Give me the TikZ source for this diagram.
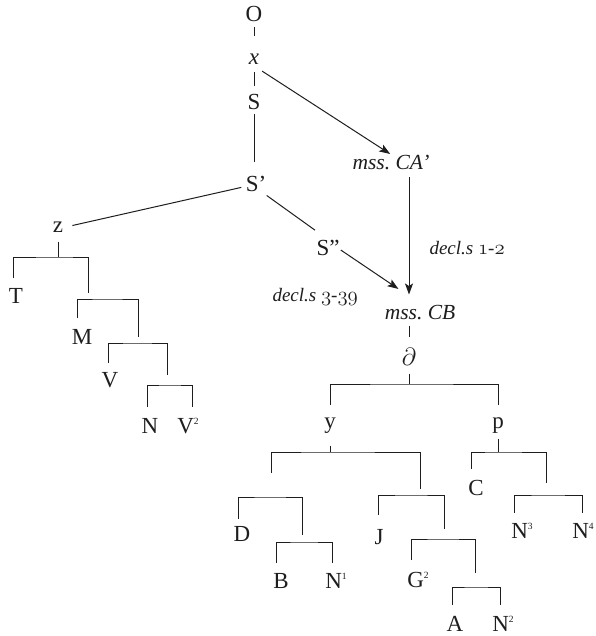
\documentclass[tikz,border=0pt]{standalone}
\usepackage{fontspec}
\setmainfont{Liberation Serif}
\usetikzlibrary{arrows.meta}
\definecolor{ink}{HTML}{1E1E1E}
% old-style figures taken from the math italic font
\newcommand\osnum[1]{{\fontsize{20.5}{24}\usefont{OML}{cmm}{m}{it}#1}}
% small raised index figures
\newcommand\idx[1]{\raisebox{8.5pt}{\fontsize{9.5}{10}\selectfont #1}}
\begin{document}
\begin{tikzpicture}[x=1pt,y=-1pt,color=ink,line width=1pt,
  lab/.style={inner sep=0pt,text height=15pt,text depth=4pt,anchor=base,
    font=\fontsize{23}{27}\selectfont},
  itlab/.style={lab,font=\fontsize{23}{27}\selectfont\itshape},
  ms/.style={lab,font=\fontsize{21.5}{25}\selectfont\itshape},
  note/.style={inner sep=0pt,anchor=base west,font=\fontsize{19}{23}\selectfont\itshape},
  arr/.style={-{Stealth[length=11pt,width=8pt,inset=2.5pt]}}]
\fill[white] (0,0) rectangle (595,636);
\useasboundingbox (0,0) rectangle (595,636);

% ---- upper stemma ----
\node[lab]   (O)   at (254,22)  {O};
\node[itlab] (x)   at (254,65)  {x};
\node[lab]   (S)   at (254,110) {S};
\node[lab]   (Sp)  at (256,192) {S'};
\node[lab]   (Spp) at (328,255) {S''};
\node[ms]    (CAp) at (391,170) {mss.\ CA'};
\node[ms]    (CB)  at (420,319) {mss.\ CB};
\node[note]  (n339) at (272,301) {decl.s \osnum{3}-\osnum{39}};
\node[note]  (n12)  at (429,254) {decl.s \osnum{1}-\osnum{2}};
\node[lab]   (dl)  at (409,365) {$\partial$};
\node[lab]   (z)   at (58,233)  {z};

\draw[shorten <=1pt,shorten >=13pt] (O) -- (x);
\draw[shorten <=3pt,shorten >=8pt] (x.south) -- (S.north);
\draw[shorten >=14pt] (S.south) -- (S.south |- Sp.north);
\draw[arr,shorten <=3pt,shorten >=1pt] (x.south east) -- (CAp.north);
\draw[arr,shorten <=3pt,shorten >=9pt] (CAp.south -| dl) -- (CB.north -| dl);
\draw[shorten <=4pt,shorten >=9pt] (Sp.west) -- (z.east);
\draw[shorten >=16pt] (Sp.-40) -- (Spp.north);
\draw[arr,shorten <=1pt,shorten >=26pt] (Spp.east) -- (CB.north);
\draw[shorten <=2pt,shorten >=13pt] (CB.south -| dl) -- (dl.north);

% ---- left branch (z) ----
\node[lab] (T)  at (16,303)  {T};
\node[lab] (M)  at (82,344)  {M};
\node[lab] (V)  at (110,387) {V};
\node[lab] (Nz) at (150,433) {N};
\node[lab] (V2) at (188,433) {V\idx{2}};
\coordinate (zb)  at (58,257);
\coordinate (zR)  at (88,293);
\coordinate (mb)  at (107,299);
\coordinate (mR)  at (138,337);
\coordinate (vb)  at (137,343);
\coordinate (vR)  at (167,375);
\coordinate (nb)  at (170,385);

\draw[shorten <=4pt] (z.south) -- (zb);
\draw[shorten <=10pt] ([xshift=-3pt]T.north) |- (zb) -| (zR);
\draw[shorten <=11pt] ([xshift=-5pt]M.north) |- (mb) -| (mR);
\draw[shorten <=9pt] ([xshift=-2pt]V.north) |- (vb) -| (vR);
\draw[shorten <=11pt,shorten >=11pt] ([xshift=-3pt]Nz.north) |- (nb) -| ([xshift=4pt]V2.north);

% ---- lower branches (y and p) ----
\node[lab] (y)  at (330,428) {y};
\node[lab] (p)  at (498,428) {p};
\node[lab] (D)  at (242,541) {D};
\node[lab] (B)  at (281,588) {B};
\node[lab] (N1) at (336,588) {N\idx{1}};
\node[lab] (J)  at (379,544) {J};
\node[lab] (G2) at (418,587) {G\idx{2}};
\node[lab] (A)  at (455,631) {A};
\node[lab] (N2) at (503,631) {N\idx{2}};
\node[lab] (C)  at (476,495) {C};
\node[lab] (N3) at (522,538) {N\idx{3}};
\node[lab] (N4) at (583,538) {N\idx{4}};

\coordinate (db) at (409,384);
\coordinate (yb) at (330,452);
\coordinate (yL) at (271,473);
\coordinate (yR) at (420,489);
\coordinate (Db) at (270,497);
\coordinate (DR) at (302,535);
\coordinate (Bb) at (304,542);
\coordinate (Jb) at (411,495);
\coordinate (JR) at (444,529);
\coordinate (Gb) at (443,539);
\coordinate (GR) at (475,573);
\coordinate (Ab) at (476,587);
\coordinate (pb) at (498,452);
\coordinate (pR) at (546,483);
\coordinate (Nb) at (548,495);

\draw[shorten <=4pt] (dl.south) -- (db);
\draw[shorten <=8pt,shorten >=8pt] (y.north) |- (db) -| (p.north);
\draw[shorten <=13pt] (y.south) -- (yb);
\draw (yL) |- (yb) -| (yR);
\draw[shorten <=7pt] ([xshift=-4pt]D.north) |- (Db) -| (DR);
\draw[shorten <=10pt,shorten >=10pt] ([xshift=-5pt]B.north) |- (Bb) -| ([xshift=-4pt]N1.north);
\draw[shorten <=14pt] ([xshift=-1pt]J.north) |- (Jb) -| (JR);
\draw[shorten <=12pt] ([xshift=-7pt]G2.north) |- (Gb) -| (GR);
\draw[shorten <=11pt,shorten >=11pt] ([xshift=-3pt]A.north) |- (Ab) -| ([xshift=-3pt]N2.north);
\draw[shorten <=6pt] (p.south) -- (pb);
\draw[shorten <=11pt] ([xshift=-5pt]C.north) |- (pb) -| (pR);
\draw[shorten <=10pt,shorten >=10pt] ([xshift=-8pt]N3.north) |- (Nb) -| ([xshift=-1pt]N4.north);
\end{tikzpicture}
\end{document}
